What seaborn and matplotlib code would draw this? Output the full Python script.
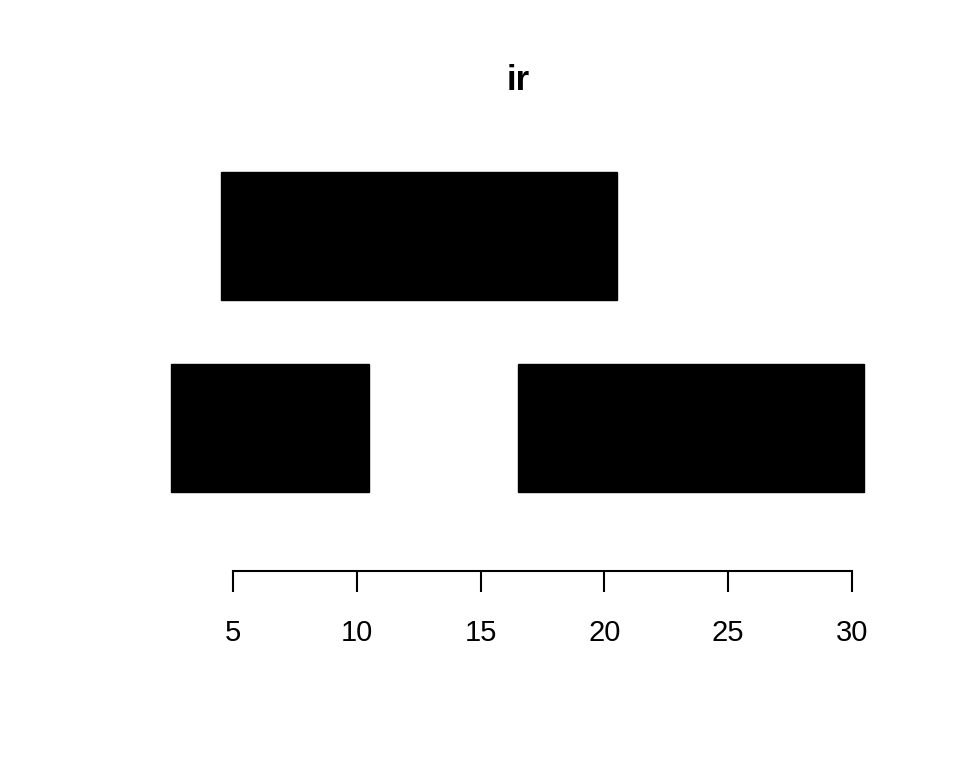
import matplotlib
matplotlib.use("Agg")
import matplotlib.pyplot as plt
import seaborn as sns
import pandas as pd

# Data: integer ranges and their disjoint bins
starts = [5, 3, 17]
ends = [20, 10, 30]
bins = [2, 1, 1]
tick_values = [5, 10, 15, 20, 25, 30]
title = "ir"

sns.set_theme(style="white")
plt.rcParams['font.family'] = ['Liberation Sans', 'DejaVu Sans']

df = pd.DataFrame({"start": starts, "end": ends, "bin": bins})
height = 1.0
sep = 0.5
df["left"] = df["start"] - 0.5
df["width"] = df["end"] - df["start"] + 1
df["ybottom"] = df["bin"] * (sep + height) - height

fig = plt.figure(figsize=(9.6, 7.68), dpi=100)
ax = fig.add_axes([0.1632, 0.256, 0.9153 - 0.1632, 0.7961 - 0.256])

ax.barh(df["ybottom"], df["width"], left=df["left"], height=height,
        align="edge", color="black", edgecolor="black", linewidth=1)

xmin, xmax = min(starts), max(ends)
pad = (xmax - xmin) * 0.04
ax.set_xlim(xmin - pad, xmax + pad)
ymax = max(bins) * (height + sep)
ax.set_ylim(-0.04 * ymax, ymax * 1.04)

sns.despine(ax=ax, left=True, top=True, right=True)
ax.spines["bottom"].set_bounds(tick_values[0], tick_values[-1])
ax.spines["bottom"].set_linewidth(1.5)
ax.spines["bottom"].set_color("black")
ax.set_xticks(tick_values)
ax.set_xticklabels([str(v) for v in tick_values])
ax.tick_params(axis="x", bottom=True, length=15, width=1.5, color="black",
               labelsize=21, pad=19, labelcolor="black")
ax.set_yticks([])
ax.grid(False)

fig.text(0.5395, 1 - 81 / 768, title, ha="center", va="center",
         fontsize=25, fontweight="bold", color="black")

fig.savefig("out.png", dpi=100, facecolor="white")
